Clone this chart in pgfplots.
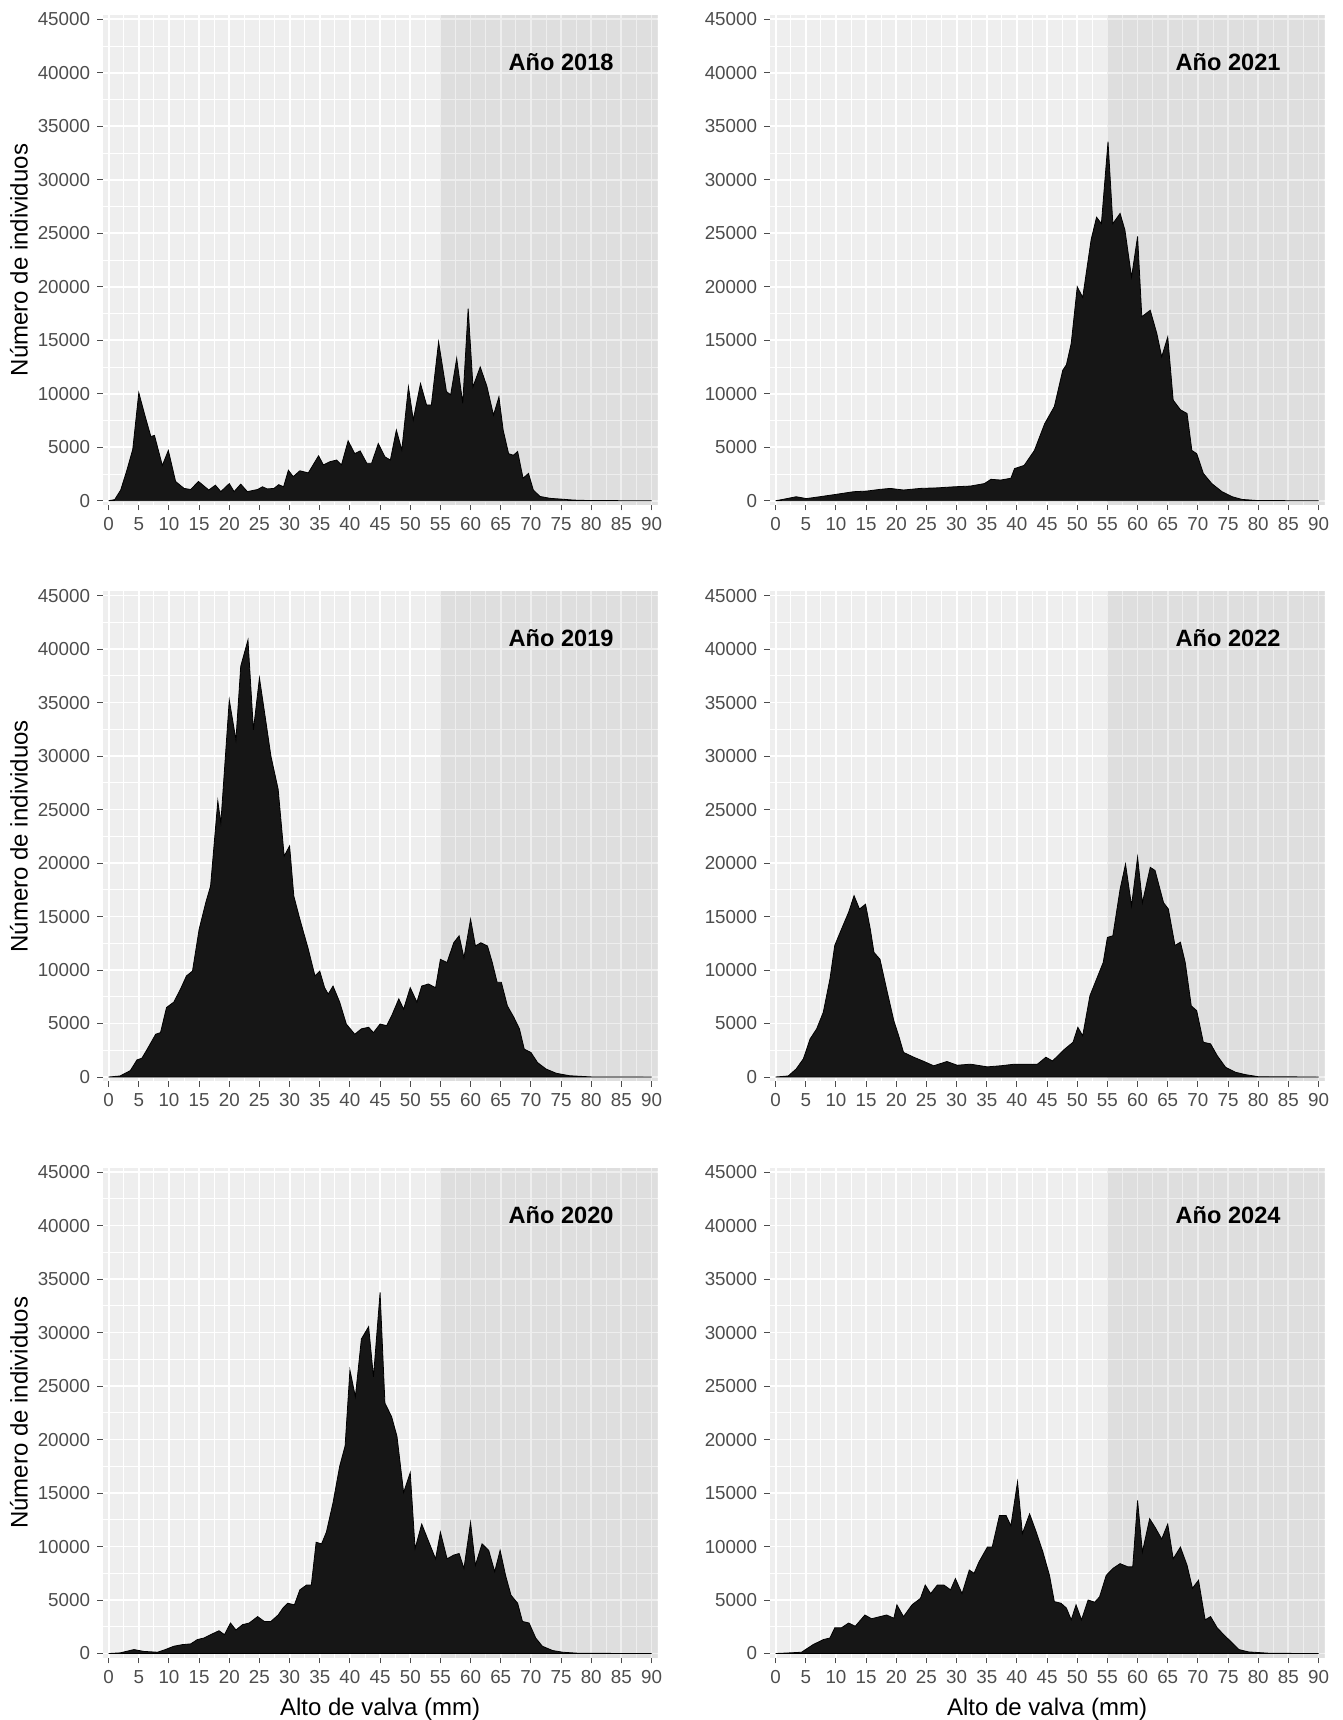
\documentclass[border=0pt]{standalone}
\usepackage{fontspec}
\setmainfont{Liberation Sans}
\usepackage{pgfplots}
\pgfplotsset{compat=1.18}
\definecolor{panelbg}{RGB}{238,238,238}
\definecolor{tickgrey}{RGB}{77,77,77}
\definecolor{areafill}{RGB}{22,22,22}
\pgfplotsset{
 panel/.style={
  scale only axis, width=277.5pt, height=245pt,
  xmin=-1, xmax=91, ymin=-400, ymax=45400,
  xtick={0,5,...,90}, minor xtick={2.5,7.5,...,87.5},
  ytick={0,5000,...,45000}, minor ytick={2500,7500,...,42500},
  grid=both,
  major grid style={white, line width=0.9pt},
  minor grid style={white, line width=0.45pt},
  axis background/.style={fill=panelbg},
  axis line style={draw=none},
  tick align=outside,
  xtick pos=left, ytick pos=left,
  major tick length=2.75pt, minor tick length=0pt,
  tick style={draw=tickgrey, line width=0.5pt},
  scaled y ticks=false,
  /pgf/number format/assume math mode=true,
  yticklabel style={/pgf/number format/fixed, /pgf/number format/1000 sep={}},
  ticklabel style={font=\fontsize{9.4}{10}\selectfont, text=tickgrey},
  anchor=south west,
 },
 yl/.style={ylabel={Número de individuos}, ylabel style={at={(axis description cs:-0.1506,0.5)}, anchor=center, font=\fontsize{12}{14}\selectfont}},
 xl/.style={xlabel={Alto de valva (mm)}, xlabel style={at={(axis description cs:0.5,-0.1043)}, anchor=center, font=\fontsize{12}{14}\selectfont}},
 area/.style={fill=areafill, draw=black, line width=0.4pt},
}
\newcommand{\hishade}{\fill[black, opacity=0.065] (axis cs:55,-400) rectangle (axis cs:91,45400);}
\newcommand{\yeartag}[1]{\node[font=\bfseries\fontsize{11.8}{13}\selectfont] at (axis cs:75,41000) {#1};}
\begin{document}
\begin{tikzpicture}
\path[use as bounding box] (0,0) rectangle (671.5pt,860pt);
% 2018
\begin{axis}[panel, yl, at={(51.3pt,607.5pt)}]
\hishade
\addplot[area] coordinates {(0,0)(1,100)(2,1000)(3,2800)(4,4800)(5,10100)(6,8000)(7,6000)(7.6,6100)(8.9,3300)(9.9,4700)(11.1,1800)(12.5,1150)(13.6,1050)(14.9,1800)(16.6,1000)(17.7,1450)(18.6,850)(20,1600)(20.8,850)(21.9,1550)(23,850)(24.7,1050)(25.5,1300)(26.3,1100)(27.4,1150)(28.2,1500)(29,1300)(29.8,2850)(30.6,2250)(31.7,2800)(33.1,2600)(34.8,4200)(35.6,3350)(36.7,3650)(37.8,3800)(38.6,3350)(39.7,5600)(40.8,4400)(41.7,4650)(42.8,3500)(43.6,3500)(44.7,5350)(45.8,4100)(46.7,3800)(47.7,6600)(48.6,4750)(49.7,10650)(50.5,7550)(51.7,10950)(52.7,8950)(53.5,8950)(54.7,14850)(56,10200)(56.7,9900)(57.7,13300)(58.7,9100)(59.6,17950)(60.4,10650)(61.6,12500)(62.7,10700)(63.8,8000)(64.7,9700)(65.4,6600)(66.3,4400)(67.1,4250)(67.8,4600)(68.7,2100)(69.6,2550)(70.4,1000)(71.5,400)(73.2,220)(75,150)(77,60)(80,10)(90,0)} \closedcycle;
\yeartag{Año 2018}
\end{axis}
% 2021
\begin{axis}[panel, at={(384.8pt,607.5pt)}]
\hishade
\addplot[area] coordinates {(0,0)(1.2,120)(3.4,370)(5.1,200)(7.3,370)(10.1,600)(12.9,840)(15.1,900)(17.3,1060)(19,1150)(21.2,1000)(24,1150)(26.8,1200)(29.6,1300)(32.3,1370)(34.6,1600)(35.7,2000)(37.3,1930)(39,2100)(39.6,3000)(41.2,3300)(42.9,4700)(44.6,7200)(46.2,8800)(47.6,12200)(48.2,12700)(49,14700)(50,20000)(50.9,19000)(52.3,24400)(53.2,26500)(54,25900)(55.1,33550)(55.9,25900)(57.1,26850)(57.9,25300)(59,20900)(60,24700)(60.7,17200)(62.1,17800)(63.2,15600)(64,13450)(65,15300)(65.9,9400)(67.1,8500)(68.2,8150)(69,4700)(69.8,4400)(70.9,2550)(72.3,1600)(74,840)(75.7,370)(77.3,120)(80,10)(90,0)} \closedcycle;
\yeartag{Año 2021}
\end{axis}
% 2019
\begin{axis}[panel, yl, at={(51.3pt,319.35pt)}]
\hishade
\addplot[area] coordinates {(0,0)(1.9,100)(3.6,600)(4.7,1600)(5.5,1750)(6.4,2600)(7.8,4000)(8.6,4150)(9.6,6500)(10.8,7000)(11.9,8200)(12.9,9450)(13.9,9900)(15,13800)(16.1,16300)(16.9,17850)(18.1,25800)(18.6,23750)(20,35250)(21.1,31500)(21.9,38400)(23.1,40850)(24,32450)(25,37300)(26.1,33100)(26.9,30000)(28.1,26900)(29.1,20650)(30,21600)(30.7,16900)(31.7,14750)(33.1,11950)(34.2,9450)(35,9900)(35.8,8350)(36.4,7750)(37.2,8500)(38.3,7000)(39.4,4950)(40.8,4000)(41.9,4500)(43.1,4650)(43.9,4150)(45,4950)(46.1,4800)(46.9,5700)(48.1,7300)(48.9,6350)(50,8350)(51.1,7000)(51.9,8500)(53,8700)(54.2,8350)(55,11000)(56.1,10700)(57.2,12550)(58.1,13200)(58.9,11150)(60,14750)(60.8,12250)(61.7,12550)(62.8,12250)(63.6,10700)(64.4,8850)(65.1,8850)(66.1,6650)(67.2,5550)(68.1,4500)(68.9,2600)(70,2300)(71.1,1350)(72.5,750)(74.2,350)(76.4,120)(80,10)(90,0)} \closedcycle;
\yeartag{Año 2019}
\end{axis}
% 2022
\begin{axis}[panel, at={(384.8pt,319.35pt)}]
\hishade
\addplot[area] coordinates {(0,0)(2.1,100)(3.4,750)(4.6,1700)(5.7,3550)(6.8,4500)(7.9,6050)(9,9150)(9.8,12300)(10.9,13800)(12.1,15400)(13,16950)(13.9,15700)(14.9,16150)(15.7,13800)(16.3,11650)(17.3,11000)(18.4,8200)(19.6,5250)(20.4,3850)(21.2,2300)(22.9,1850)(24.6,1450)(26.2,1050)(28.4,1450)(30.1,1100)(32.3,1200)(35.1,950)(37.3,1050)(39.6,1200)(41.8,1200)(43.4,1200)(44.8,1850)(45.9,1500)(47.9,2600)(49.3,3250)(50.1,4650)(50.9,3850)(52.1,7600)(53.2,9150)(54.3,10700)(55,13050)(55.9,13200)(57.1,17550)(58,19900)(59,16000)(60,20550)(60.8,16300)(62.1,19600)(62.9,19300)(64.3,16300)(65.1,15700)(66.2,12300)(67.1,12600)(67.9,10700)(68.9,6650)(69.8,6200)(70.9,3250)(72.1,3100)(73.2,2000)(74.6,900)(76.2,450)(77.9,220)(80,30)(90,0)} \closedcycle;
\yeartag{Año 2022}
\end{axis}
% 2020
\begin{axis}[panel, yl, xl, at={(51.3pt,31.1pt)}]
\hishade
\addplot[area] coordinates {(0,0)(1.9,60)(4.2,370)(5.8,200)(8.1,120)(9.4,370)(10.8,680)(12.2,830)(13.6,900)(14.7,1300)(15.8,1450)(16.9,1760)(18.3,2130)(19.2,1760)(20.2,2850)(21.1,2200)(22.2,2700)(23.3,2850)(24.7,3450)(25.8,3000)(26.9,3000)(28.1,3600)(28.9,4250)(29.7,4700)(30.8,4550)(31.7,5950)(32.8,6400)(33.6,6400)(34.4,10400)(35.3,10250)(36.1,11350)(37.2,14100)(38.3,17500)(39.2,19400)(40,26500)(40.9,24000)(41.9,29400)(43.1,30550)(43.9,25850)(45,33750)(45.8,23400)(46.9,22150)(47.8,20300)(48.9,15050)(50,16900)(50.8,9800)(51.9,12100)(53.1,10400)(54.2,8850)(55,11350)(56.1,8850)(57.2,9200)(58.1,9350)(58.9,7950)(60,12250)(60.8,8250)(61.9,10250)(63,9650)(64,7650)(64.9,9650)(65.8,7300)(66.7,5450)(67.8,4700)(68.6,3000)(69.7,2850)(70.8,1450)(71.9,680)(73.6,280)(75.3,120)(78,20)(90,0)} \closedcycle;
\yeartag{Año 2020}
\end{axis}
% 2024
\begin{axis}[panel, xl, at={(384.8pt,31.1pt)}]
\hishade
\addplot[area] coordinates {(0,0)(2.3,60)(4.3,120)(6.2,830)(7.9,1300)(9,1450)(9.8,2400)(10.9,2400)(12.1,2850)(13.2,2550)(14.8,3600)(15.9,3250)(17.3,3450)(18.4,3600)(19.6,3300)(20.1,4550)(21.2,3450)(22.6,4550)(24,5150)(24.8,6400)(25.7,5600)(26.8,6400)(27.9,6400)(29,5950)(29.8,7000)(30.9,5600)(32.1,7800)(32.9,7500)(33.7,8550)(35.1,9950)(35.9,9950)(37.1,12900)(38.2,12900)(39,11950)(40.1,16050)(40.9,11200)(42.1,13050)(43.2,11350)(44.3,9500)(45.4,7300)(46.2,4850)(47.3,4700)(48.2,4250)(49,3150)(49.8,4550)(50.7,3150)(51.8,5000)(52.9,4800)(53.7,5300)(54.8,7300)(55.9,7950)(57.1,8400)(58.4,8100)(59.2,8100)(60,14300)(60.8,9500)(62,12600)(62.9,11800)(64,10700)(65,12100)(65.9,8850)(67.1,9950)(68.2,8250)(69.1,6100)(70.1,6850)(71.2,3150)(72.1,3450)(73.2,2400)(74.3,1750)(75.4,1150)(76.8,370)(78.4,150)(82,20)(90,0)} \closedcycle;
\yeartag{Año 2024}
\end{axis}
\end{tikzpicture}
\end{document}
